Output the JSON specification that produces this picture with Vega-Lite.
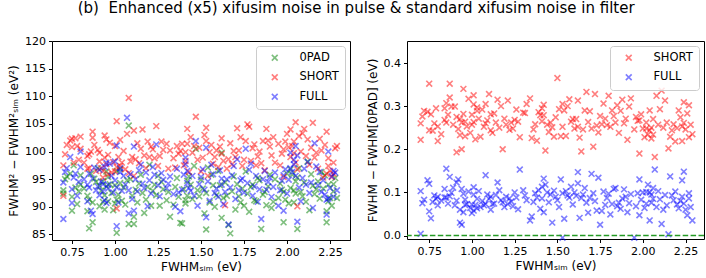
{
  "$schema": "https://vega.github.io/schema/vega-lite/v6.json",
  "padding": {"left": 7, "top": 0, "right": 3, "bottom": 2},
  "title": {"text": "(b)\u00a0\u00a0Enhanced (x5) xifusim noise in pulse & standard xifusim noise in filter", "font": "DejaVu Sans", "fontSize": 15, "fontWeight": "normal", "color": "black", "anchor": "middle", "offset": 19},
  "bounds": "flush",
  "spacing": 57,
  "datasets": {
    "left": [
      {"x":0.70,"0PAD":92.4,"SHORT":92.0,"FULL":87.8},
      {"x":0.70,"0PAD":93.0,"SHORT":97.5,"FULL":94.4},
      {"x":0.72,"0PAD":95.5,"SHORT":101.2,"FULL":97.0},
      {"x":0.74,"0PAD":96.0,"SHORT":102.0,"FULL":99.0},
      {"x":0.75,"0PAD":89.3,"SHORT":100.8,"FULL":90.7},
      {"x":0.75,"0PAD":91.8,"SHORT":102.3,"FULL":93.2},
      {"x":0.76,"0PAD":97.5,"SHORT":98.0,"FULL":95.3},
      {"x":0.77,"0PAD":93.5,"SHORT":102.4,"FULL":96.0},
      {"x":0.79,"0PAD":92.8,"SHORT":98.5,"FULL":94.5},
      {"x":0.80,"0PAD":95.7,"SHORT":100.5,"FULL":97.2},
      {"x":0.80,"0PAD":94.0,"SHORT":102.7,"FULL":100.0},
      {"x":0.84,"0PAD":89.2,"SHORT":99.2,"FULL":91.0},
      {"x":0.84,"0PAD":92.0,"SHORT":96.9,"FULL":94.0},
      {"x":0.85,"0PAD":86.1,"SHORT":97.0,"FULL":93.5},
      {"x":0.85,"0PAD":91.3,"SHORT":99.5,"FULL":96.0},
      {"x":0.86,"0PAD":96.0,"SHORT":100.0,"FULL":89.3},
      {"x":0.87,"0PAD":87.2,"SHORT":103.6,"FULL":88.7},
      {"x":0.87,"0PAD":90.8,"SHORT":102.5,"FULL":95.1},
      {"x":0.89,"0PAD":94.5,"SHORT":96.5,"FULL":93.0},
      {"x":0.90,"0PAD":97.0,"SHORT":100.3,"FULL":93.7},
      {"x":0.91,"0PAD":90.1,"SHORT":98.2,"FULL":92.1},
      {"x":0.92,"0PAD":92.9,"SHORT":97.0,"FULL":94.6},
      {"x":0.93,"0PAD":90.9,"SHORT":95.3,"FULL":94.1},
      {"x":0.93,"0PAD":94.6,"SHORT":96.5,"FULL":92.8},
      {"x":0.94,"0PAD":89.5,"SHORT":102.9,"FULL":91.2},
      {"x":0.95,"0PAD":93.7,"SHORT":97.7,"FULL":98.0},
      {"x":0.95,"0PAD":96.4,"SHORT":102.2,"FULL":90.7},
      {"x":0.96,"0PAD":91.0,"SHORT":95.9,"FULL":93.3},
      {"x":0.97,"0PAD":94.1,"SHORT":101.6,"FULL":97.8},
      {"x":0.98,"0PAD":92.5,"SHORT":96.2,"FULL":95.6},
      {"x":0.99,"0PAD":89.4,"SHORT":98.1,"FULL":92.6},
      {"x":1.00,"0PAD":93.9,"SHORT":101.0,"FULL":94.8},
      {"x":1.01,"0PAD":85.3,"SHORT":105.5,"FULL":86.5},
      {"x":1.01,"0PAD":91.3,"SHORT":89.7,"FULL":101.1},
      {"x":1.01,"0PAD":96.5,"SHORT":97.2,"FULL":93.5},
      {"x":1.02,"0PAD":92.2,"SHORT":99.0,"FULL":90.8},
      {"x":1.03,"0PAD":94.3,"SHORT":97.4,"FULL":96.3},
      {"x":1.04,"0PAD":91.1,"SHORT":98.0,"FULL":92.9},
      {"x":1.05,"0PAD":93.5,"SHORT":100.1,"FULL":95.6},
      {"x":1.06,"0PAD":90.4,"SHORT":96.8,"FULL":94.0},
      {"x":1.07,"0PAD":94.8,"SHORT":103.2,"FULL":106.1},
      {"x":1.08,"0PAD":104.7,"SHORT":109.7,"FULL":88.8},
      {"x":1.08,"0PAD":86.9,"SHORT":96.1,"FULL":93.0},
      {"x":1.10,"0PAD":92.0,"SHORT":99.0,"FULL":91.4},
      {"x":1.11,"0PAD":86.9,"SHORT":103.8,"FULL":100.9},
      {"x":1.11,"0PAD":88.2,"SHORT":95.6,"FULL":89.3},
      {"x":1.12,"0PAD":93.1,"SHORT":98.6,"FULL":95.0},
      {"x":1.15,"0PAD":95.8,"SHORT":100.5,"FULL":97.6},
      {"x":1.16,"0PAD":92.5,"SHORT":104.0,"FULL":94.2},
      {"x":1.17,"0PAD":88.9,"SHORT":99.3,"FULL":93.4},
      {"x":1.18,"0PAD":91.3,"SHORT":97.0,"FULL":96.2},
      {"x":1.19,"0PAD":93.6,"SHORT":101.8,"FULL":90.1},
      {"x":1.20,"0PAD":97.6,"SHORT":99.0,"FULL":94.8},
      {"x":1.21,"0PAD":90.2,"SHORT":100.9,"FULL":92.4},
      {"x":1.23,"0PAD":94.0,"SHORT":98.8,"FULL":95.8},
      {"x":1.24,"0PAD":92.1,"SHORT":104.6,"FULL":101.3},
      {"x":1.25,"0PAD":95.6,"SHORT":97.4,"FULL":93.9},
      {"x":1.26,"0PAD":90.2,"SHORT":99.2,"FULL":91.9},
      {"x":1.28,"0PAD":93.2,"SHORT":100.3,"FULL":94.9},
      {"x":1.30,"0PAD":91.2,"SHORT":101.4,"FULL":93.4},
      {"x":1.32,"0PAD":88.2,"SHORT":100.2,"FULL":95.5},
      {"x":1.34,"0PAD":90.4,"SHORT":98.8,"FULL":92.3},
      {"x":1.35,"0PAD":93.6,"SHORT":97.1,"FULL":90.0},
      {"x":1.37,"0PAD":91.8,"SHORT":99.6,"FULL":92.6},
      {"x":1.38,"0PAD":87.1,"SHORT":100.1,"FULL":89.2},
      {"x":1.39,"0PAD":87.0,"SHORT":101.4,"FULL":93.1},
      {"x":1.40,"0PAD":93.2,"SHORT":97.5,"FULL":95.8},
      {"x":1.41,"0PAD":90.6,"SHORT":98.3,"FULL":97.7},
      {"x":1.42,"0PAD":94.7,"SHORT":104.1,"FULL":96.5},
      {"x":1.42,"0PAD":92.0,"SHORT":101.4,"FULL":94.3},
      {"x":1.43,"0PAD":95.5,"SHORT":96.3,"FULL":93.4},
      {"x":1.45,"0PAD":91.4,"SHORT":99.8,"FULL":95.6},
      {"x":1.46,"0PAD":97.4,"SHORT":101.0,"FULL":92.0},
      {"x":1.47,"0PAD":100.5,"SHORT":106.3,"FULL":101.9},
      {"x":1.48,"0PAD":93.0,"SHORT":98.5,"FULL":90.2},
      {"x":1.50,"0PAD":94.9,"SHORT":96.4,"FULL":95.4},
      {"x":1.52,"0PAD":88.8,"SHORT":103.0,"FULL":93.1},
      {"x":1.53,"0PAD":85.9,"SHORT":104.3,"FULL":88.1},
      {"x":1.53,"0PAD":92.5,"SHORT":101.9,"FULL":100.7},
      {"x":1.54,"0PAD":97.1,"SHORT":95.6,"FULL":94.6},
      {"x":1.55,"0PAD":90.8,"SHORT":99.9,"FULL":91.1},
      {"x":1.57,"0PAD":93.9,"SHORT":97.8,"FULL":95.9},
      {"x":1.59,"0PAD":92.1,"SHORT":100.2,"FULL":93.3},
      {"x":1.60,"0PAD":96.5,"SHORT":97.2,"FULL":91.8},
      {"x":1.62,"0PAD":88.0,"SHORT":102.4,"FULL":95.1},
      {"x":1.62,"0PAD":99.8,"SHORT":99.6,"FULL":94.0},
      {"x":1.63,"0PAD":91.6,"SHORT":98.3,"FULL":90.5},
      {"x":1.64,"0PAD":94.4,"SHORT":90.3,"FULL":92.7},
      {"x":1.66,"0PAD":86.7,"SHORT":98.6,"FULL":86.8},
      {"x":1.67,"0PAD":85.2,"SHORT":101.5,"FULL":93.5},
      {"x":1.68,"0PAD":92.8,"SHORT":97.7,"FULL":95.7},
      {"x":1.70,"0PAD":89.5,"SHORT":99.0,"FULL":91.4},
      {"x":1.71,"0PAD":94.1,"SHORT":104.2,"FULL":98.6},
      {"x":1.72,"0PAD":91.9,"SHORT":100.2,"FULL":93.0},
      {"x":1.74,"0PAD":93.3,"SHORT":97.4,"FULL":95.1},
      {"x":1.75,"0PAD":90.2,"SHORT":98.5,"FULL":92.6},
      {"x":1.76,"0PAD":96.4,"SHORT":101.9,"FULL":100.5},
      {"x":1.77,"0PAD":92.4,"SHORT":104.9,"FULL":94.3},
      {"x":1.78,"0PAD":89.1,"SHORT":104.5,"FULL":96.7},
      {"x":1.80,"0PAD":94.0,"SHORT":100.6,"FULL":92.0},
      {"x":1.81,"0PAD":91.2,"SHORT":101.3,"FULL":93.7},
      {"x":1.83,"0PAD":95.2,"SHORT":99.1,"FULL":90.9},
      {"x":1.85,"0PAD":86.0,"SHORT":97.9,"FULL":87.8},
      {"x":1.86,"0PAD":92.2,"SHORT":101.9,"FULL":95.0},
      {"x":1.88,"0PAD":90.3,"SHORT":104.1,"FULL":93.1},
      {"x":1.89,"0PAD":93.7,"SHORT":102.0,"FULL":94.5},
      {"x":1.91,"0PAD":89.8,"SHORT":99.3,"FULL":91.8},
      {"x":1.93,"0PAD":95.0,"SHORT":98.0,"FULL":96.2},
      {"x":1.95,"0PAD":91.6,"SHORT":101.4,"FULL":90.2},
      {"x":1.96,"0PAD":94.2,"SHORT":97.5,"FULL":93.0},
      {"x":1.98,"0PAD":87.2,"SHORT":100.4,"FULL":89.3},
      {"x":1.98,"0PAD":92.7,"SHORT":95.4,"FULL":95.7},
      {"x":2.00,"0PAD":96.0,"SHORT":103.2,"FULL":92.4},
      {"x":2.01,"0PAD":90.6,"SHORT":100.8,"FULL":94.9},
      {"x":2.02,"0PAD":93.4,"SHORT":104.0,"FULL":97.0},
      {"x":2.03,"0PAD":95.8,"SHORT":101.0,"FULL":96.3},
      {"x":2.04,"0PAD":90.8,"SHORT":99.7,"FULL":98.5},
      {"x":2.05,"0PAD":94.6,"SHORT":105.3,"FULL":101.0},
      {"x":2.05,"0PAD":92.4,"SHORT":98.0,"FULL":95.6},
      {"x":2.06,"0PAD":86.0,"SHORT":90.1,"FULL":87.3},
      {"x":2.07,"0PAD":97.0,"SHORT":102.8,"FULL":93.5},
      {"x":2.08,"0PAD":92.7,"SHORT":100.0,"FULL":91.0},
      {"x":2.10,"0PAD":94.4,"SHORT":104.1,"FULL":96.9},
      {"x":2.11,"0PAD":90.9,"SHORT":99.2,"FULL":94.0},
      {"x":2.12,"0PAD":98.2,"SHORT":102.2,"FULL":98.1},
      {"x":2.13,"0PAD":89.4,"SHORT":97.6,"FULL":92.5},
      {"x":2.15,"0PAD":93.8,"SHORT":105.2,"FULL":89.8},
      {"x":2.16,"0PAD":92.3,"SHORT":98.9,"FULL":101.5},
      {"x":2.18,"0PAD":94.6,"SHORT":96.9,"FULL":93.9},
      {"x":2.19,"0PAD":91.5,"SHORT":102.3,"FULL":96.3},
      {"x":2.20,"0PAD":96.3,"SHORT":100.2,"FULL":92.7},
      {"x":2.21,"0PAD":93.3,"SHORT":95.3,"FULL":94.8},
      {"x":2.23,"0PAD":87.2,"SHORT":103.6,"FULL":88.6},
      {"x":2.23,"0PAD":89.2,"SHORT":96.0,"FULL":91.3},
      {"x":2.24,"0PAD":94.0,"SHORT":97.4,"FULL":100.0},
      {"x":2.25,"0PAD":91.6,"SHORT":96.5,"FULL":93.4},
      {"x":2.26,"0PAD":90.2,"SHORT":95.4,"FULL":95.5},
      {"x":2.27,"0PAD":92.8,"SHORT":98.0,"FULL":91.8},
      {"x":2.28,"0PAD":95.2,"SHORT":100.6,"FULL":96.2},
      {"x":2.29,"0PAD":91.6,"SHORT":101.0,"FULL":93.0},
      {"x":0.71,"0PAD":95.0,"SHORT":99.5,"FULL":96.3},
      {"x":0.78,"0PAD":90.5,"SHORT":101.0,"FULL":92.0},
      {"x":0.82,"0PAD":93.3,"SHORT":98.0,"FULL":95.0},
      {"x":0.88,"0PAD":95.1,"SHORT":101.2,"FULL":97.1},
      {"x":0.91,"0PAD":93.8,"SHORT":99.8,"FULL":96.7},
      {"x":0.94,"0PAD":92.1,"SHORT":98.9,"FULL":97.2},
      {"x":0.96,"0PAD":95.4,"SHORT":99.4,"FULL":94.0},
      {"x":1.00,"0PAD":90.6,"SHORT":96.4,"FULL":98.2},
      {"x":1.03,"0PAD":96.8,"SHORT":102.1,"FULL":97.0},
      {"x":1.09,"0PAD":95.0,"SHORT":98.2,"FULL":95.9},
      {"x":1.13,"0PAD":90.8,"SHORT":101.5,"FULL":92.8},
      {"x":1.14,"0PAD":94.2,"SHORT":97.9,"FULL":96.6},
      {"x":1.22,"0PAD":92.9,"SHORT":100.4,"FULL":97.2},
      {"x":1.27,"0PAD":94.5,"SHORT":101.8,"FULL":96.1},
      {"x":1.31,"0PAD":92.7,"SHORT":96.9,"FULL":94.2},
      {"x":1.36,"0PAD":95.2,"SHORT":101.0,"FULL":96.9},
      {"x":1.41,"0PAD":91.2,"SHORT":99.9,"FULL":98.9},
      {"x":1.44,"0PAD":94.0,"SHORT":102.6,"FULL":92.9},
      {"x":1.49,"0PAD":91.9,"SHORT":100.7,"FULL":94.1},
      {"x":1.51,"0PAD":93.3,"SHORT":98.9,"FULL":96.8},
      {"x":1.56,"0PAD":95.8,"SHORT":101.2,"FULL":97.6},
      {"x":1.58,"0PAD":90.0,"SHORT":99.0,"FULL":92.5},
      {"x":1.61,"0PAD":93.9,"SHORT":100.9,"FULL":96.6},
      {"x":1.65,"0PAD":92.0,"SHORT":96.9,"FULL":95.0},
      {"x":1.69,"0PAD":95.5,"SHORT":100.1,"FULL":97.4},
      {"x":1.73,"0PAD":90.8,"SHORT":102.6,"FULL":94.8},
      {"x":1.79,"0PAD":93.6,"SHORT":98.3,"FULL":97.8},
      {"x":1.82,"0PAD":91.0,"SHORT":97.5,"FULL":95.6},
      {"x":1.84,"0PAD":94.8,"SHORT":100.0,"FULL":93.2},
      {"x":1.87,"0PAD":92.7,"SHORT":96.6,"FULL":96.5},
      {"x":1.90,"0PAD":95.8,"SHORT":100.9,"FULL":95.3},
      {"x":1.92,"0PAD":90.9,"SHORT":102.6,"FULL":93.6},
      {"x":1.97,"0PAD":93.1,"SHORT":99.6,"FULL":94.7},
      {"x":1.99,"0PAD":91.3,"SHORT":101.8,"FULL":96.8},
      {"x":2.02,"0PAD":96.8,"SHORT":99.0,"FULL":99.8},
      {"x":2.04,"0PAD":93.0,"SHORT":101.8,"FULL":97.7},
      {"x":2.06,"0PAD":95.3,"SHORT":96.8,"FULL":99.3},
      {"x":2.09,"0PAD":91.9,"SHORT":103.3,"FULL":95.2},
      {"x":2.14,"0PAD":95.9,"SHORT":100.7,"FULL":94.4},
      {"x":2.17,"0PAD":93.2,"SHORT":99.8,"FULL":97.3},
      {"x":2.22,"0PAD":95.7,"SHORT":101.2,"FULL":92.2},
      {"x":2.24,"0PAD":91.0,"SHORT":98.8,"FULL":91.5},
      {"x":2.27,"0PAD":94.1,"SHORT":96.0,"FULL":96.5}
    ],
    "right": [
      {"x":0.70,"SHORT":0.222,"FULL":0.103},
      {"x":0.70,"SHORT":0.260,"FULL":0.004},
      {"x":0.72,"SHORT":0.289,"FULL":0.083},
      {"x":0.74,"SHORT":0.287,"FULL":0.128},
      {"x":0.75,"SHORT":0.244,"FULL":0.120},
      {"x":0.75,"SHORT":0.352,"FULL":0.056},
      {"x":0.76,"SHORT":0.281,"FULL":0.040},
      {"x":0.77,"SHORT":0.243,"FULL":0.078},
      {"x":0.79,"SHORT":0.295,"FULL":0.085},
      {"x":0.80,"SHORT":0.219,"FULL":0.090},
      {"x":0.80,"SHORT":0.253,"FULL":0.070},
      {"x":0.84,"SHORT":0.268,"FULL":0.108},
      {"x":0.84,"SHORT":0.295,"FULL":0.088},
      {"x":0.85,"SHORT":0.262,"FULL":0.155},
      {"x":0.85,"SHORT":0.307,"FULL":0.088},
      {"x":0.86,"SHORT":0.280,"FULL":0.074},
      {"x":0.87,"SHORT":0.352,"FULL":0.136},
      {"x":0.87,"SHORT":0.320,"FULL":0.091},
      {"x":0.89,"SHORT":0.257,"FULL":0.111},
      {"x":0.90,"SHORT":0.299,"FULL":0.070},
      {"x":0.91,"SHORT":0.193,"FULL":0.081},
      {"x":0.92,"SHORT":0.247,"FULL":0.130},
      {"x":0.93,"SHORT":0.233,"FULL":0.030},
      {"x":0.93,"SHORT":0.270,"FULL":0.060},
      {"x":0.94,"SHORT":0.200,"FULL":0.025},
      {"x":0.95,"SHORT":0.282,"FULL":0.054},
      {"x":0.95,"SHORT":0.340,"FULL":0.097},
      {"x":0.96,"SHORT":0.264,"FULL":0.083},
      {"x":0.97,"SHORT":0.253,"FULL":0.073},
      {"x":0.98,"SHORT":0.317,"FULL":0.102},
      {"x":0.99,"SHORT":0.238,"FULL":0.064},
      {"x":1.00,"SHORT":0.280,"FULL":0.072},
      {"x":1.01,"SHORT":0.325,"FULL":0.112},
      {"x":1.01,"SHORT":0.304,"FULL":0.095},
      {"x":1.01,"SHORT":0.263,"FULL":0.058},
      {"x":1.02,"SHORT":0.223,"FULL":0.071},
      {"x":1.03,"SHORT":0.297,"FULL":0.085},
      {"x":1.04,"SHORT":0.271,"FULL":0.103},
      {"x":1.05,"SHORT":0.229,"FULL":0.066},
      {"x":1.06,"SHORT":0.292,"FULL":0.080},
      {"x":1.07,"SHORT":0.252,"FULL":0.070},
      {"x":1.08,"SHORT":0.260,"FULL":0.140},
      {"x":1.08,"SHORT":0.305,"FULL":0.073},
      {"x":1.10,"SHORT":0.328,"FULL":0.085},
      {"x":1.11,"SHORT":0.281,"FULL":0.090},
      {"x":1.11,"SHORT":0.244,"FULL":0.060},
      {"x":1.12,"SHORT":0.238,"FULL":0.073},
      {"x":1.15,"SHORT":0.315,"FULL":0.123},
      {"x":1.16,"SHORT":0.250,"FULL":0.105},
      {"x":1.17,"SHORT":0.300,"FULL":0.082},
      {"x":1.18,"SHORT":0.200,"FULL":0.077},
      {"x":1.19,"SHORT":0.271,"FULL":0.066},
      {"x":1.20,"SHORT":0.257,"FULL":0.090},
      {"x":1.21,"SHORT":0.313,"FULL":0.073},
      {"x":1.23,"SHORT":0.262,"FULL":0.079},
      {"x":1.24,"SHORT":0.248,"FULL":0.068},
      {"x":1.25,"SHORT":0.268,"FULL":0.100},
      {"x":1.26,"SHORT":0.292,"FULL":0.088},
      {"x":1.28,"SHORT":0.228,"FULL":0.153},
      {"x":1.30,"SHORT":0.285,"FULL":0.105},
      {"x":1.32,"SHORT":0.305,"FULL":0.082},
      {"x":1.34,"SHORT":0.318,"FULL":0.035},
      {"x":1.35,"SHORT":0.226,"FULL":0.044},
      {"x":1.37,"SHORT":0.258,"FULL":0.098},
      {"x":1.38,"SHORT":0.220,"FULL":0.088},
      {"x":1.39,"SHORT":0.286,"FULL":0.105},
      {"x":1.40,"SHORT":0.279,"FULL":0.062},
      {"x":1.41,"SHORT":0.265,"FULL":0.113},
      {"x":1.42,"SHORT":0.279,"FULL":0.132},
      {"x":1.42,"SHORT":0.303,"FULL":0.054},
      {"x":1.43,"SHORT":0.197,"FULL":0.118},
      {"x":1.45,"SHORT":0.240,"FULL":0.077},
      {"x":1.46,"SHORT":0.262,"FULL":0.095},
      {"x":1.47,"SHORT":0.251,"FULL":0.030},
      {"x":1.48,"SHORT":0.229,"FULL":0.104},
      {"x":1.50,"SHORT":0.365,"FULL":0.082},
      {"x":1.52,"SHORT":0.230,"FULL":0.130},
      {"x":1.53,"SHORT":0.305,"FULL":-0.005},
      {"x":1.53,"SHORT":0.252,"FULL":0.098},
      {"x":1.54,"SHORT":0.290,"FULL":0.039},
      {"x":1.55,"SHORT":0.231,"FULL":0.103},
      {"x":1.57,"SHORT":0.316,"FULL":0.088},
      {"x":1.59,"SHORT":0.270,"FULL":0.072},
      {"x":1.60,"SHORT":0.248,"FULL":0.100},
      {"x":1.62,"SHORT":0.252,"FULL":0.147},
      {"x":1.62,"SHORT":0.313,"FULL":0.121},
      {"x":1.63,"SHORT":0.227,"FULL":0.041},
      {"x":1.64,"SHORT":0.195,"FULL":0.087},
      {"x":1.66,"SHORT":0.290,"FULL":0.110},
      {"x":1.67,"SHORT":0.333,"FULL":0.076},
      {"x":1.68,"SHORT":0.263,"FULL":0.053},
      {"x":1.70,"SHORT":0.248,"FULL":0.143},
      {"x":1.71,"SHORT":0.206,"FULL":0.098},
      {"x":1.72,"SHORT":0.328,"FULL":0.080},
      {"x":1.74,"SHORT":0.239,"FULL":0.134},
      {"x":1.75,"SHORT":0.277,"FULL":0.025},
      {"x":1.76,"SHORT":0.258,"FULL":0.057},
      {"x":1.77,"SHORT":0.306,"FULL":0.102},
      {"x":1.78,"SHORT":0.271,"FULL":0.071},
      {"x":1.80,"SHORT":0.324,"FULL":0.097},
      {"x":1.81,"SHORT":0.252,"FULL":0.049},
      {"x":1.83,"SHORT":0.277,"FULL":0.108},
      {"x":1.85,"SHORT":0.302,"FULL":0.068},
      {"x":1.86,"SHORT":0.238,"FULL":0.076},
      {"x":1.88,"SHORT":0.315,"FULL":0.086},
      {"x":1.89,"SHORT":0.260,"FULL":0.107},
      {"x":1.91,"SHORT":0.222,"FULL":0.054},
      {"x":1.93,"SHORT":0.318,"FULL":0.096},
      {"x":1.95,"SHORT":0.246,"FULL":-0.005},
      {"x":1.96,"SHORT":0.275,"FULL":0.068},
      {"x":1.98,"SHORT":0.190,"FULL":0.130},
      {"x":1.98,"SHORT":0.267,"FULL":0.047},
      {"x":2.00,"SHORT":0.248,"FULL":0.100},
      {"x":2.01,"SHORT":0.228,"FULL":0.064},
      {"x":2.02,"SHORT":0.262,"FULL":0.101},
      {"x":2.03,"SHORT":0.234,"FULL":0.118},
      {"x":2.04,"SHORT":0.290,"FULL":0.035},
      {"x":2.05,"SHORT":0.225,"FULL":0.076},
      {"x":2.05,"SHORT":0.250,"FULL":0.095},
      {"x":2.06,"SHORT":0.270,"FULL":0.110},
      {"x":2.07,"SHORT":0.182,"FULL":0.153},
      {"x":2.08,"SHORT":0.324,"FULL":0.066},
      {"x":2.10,"SHORT":0.293,"FULL":0.084},
      {"x":2.11,"SHORT":0.336,"FULL":0.027},
      {"x":2.12,"SHORT":0.250,"FULL":0.060},
      {"x":2.13,"SHORT":0.313,"FULL":0.094},
      {"x":2.15,"SHORT":0.202,"FULL":0.003},
      {"x":2.16,"SHORT":0.229,"FULL":0.137},
      {"x":2.18,"SHORT":0.258,"FULL":0.082},
      {"x":2.19,"SHORT":0.218,"FULL":0.102},
      {"x":2.20,"SHORT":0.249,"FULL":0.072},
      {"x":2.21,"SHORT":0.290,"FULL":0.063},
      {"x":2.23,"SHORT":0.219,"FULL":0.128},
      {"x":2.23,"SHORT":0.253,"FULL":0.090},
      {"x":2.24,"SHORT":0.309,"FULL":0.148},
      {"x":2.25,"SHORT":0.246,"FULL":0.060},
      {"x":2.26,"SHORT":0.283,"FULL":0.047},
      {"x":2.27,"SHORT":0.228,"FULL":0.098},
      {"x":2.28,"SHORT":0.257,"FULL":0.066},
      {"x":2.29,"SHORT":0.235,"FULL":0.035},
      {"x":0.71,"SHORT":0.276,"FULL":0.075},
      {"x":0.78,"SHORT":0.260,"FULL":0.093},
      {"x":0.82,"SHORT":0.235,"FULL":0.081},
      {"x":0.88,"SHORT":0.299,"FULL":0.099},
      {"x":0.91,"SHORT":0.275,"FULL":0.123},
      {"x":0.94,"SHORT":0.262,"FULL":0.108},
      {"x":0.96,"SHORT":0.230,"FULL":0.071},
      {"x":1.00,"SHORT":0.257,"FULL":0.052},
      {"x":1.03,"SHORT":0.289,"FULL":0.063},
      {"x":1.09,"SHORT":0.267,"FULL":0.095},
      {"x":1.13,"SHORT":0.283,"FULL":0.074},
      {"x":1.14,"SHORT":0.262,"FULL":0.094},
      {"x":1.22,"SHORT":0.245,"FULL":0.086},
      {"x":1.27,"SHORT":0.264,"FULL":0.061},
      {"x":1.31,"SHORT":0.284,"FULL":0.093},
      {"x":1.36,"SHORT":0.246,"FULL":0.078},
      {"x":1.41,"SHORT":0.295,"FULL":0.086},
      {"x":1.44,"SHORT":0.257,"FULL":0.100},
      {"x":1.49,"SHORT":0.274,"FULL":0.090},
      {"x":1.51,"SHORT":0.293,"FULL":0.066},
      {"x":1.56,"SHORT":0.300,"FULL":0.093},
      {"x":1.58,"SHORT":0.264,"FULL":0.113},
      {"x":1.61,"SHORT":0.270,"FULL":0.092},
      {"x":1.65,"SHORT":0.246,"FULL":0.095},
      {"x":1.69,"SHORT":0.288,"FULL":0.087},
      {"x":1.73,"SHORT":0.255,"FULL":0.058},
      {"x":1.79,"SHORT":0.256,"FULL":0.087},
      {"x":1.82,"SHORT":0.290,"FULL":0.073},
      {"x":1.84,"SHORT":0.262,"FULL":0.110},
      {"x":1.87,"SHORT":0.289,"FULL":0.062},
      {"x":1.90,"SHORT":0.271,"FULL":0.090},
      {"x":1.92,"SHORT":0.299,"FULL":0.075},
      {"x":1.97,"SHORT":0.266,"FULL":0.098},
      {"x":1.99,"SHORT":0.281,"FULL":0.083},
      {"x":2.02,"SHORT":0.248,"FULL":0.074},
      {"x":2.04,"SHORT":0.244,"FULL":0.100},
      {"x":2.06,"SHORT":0.234,"FULL":0.085},
      {"x":2.09,"SHORT":0.257,"FULL":0.103},
      {"x":2.14,"SHORT":0.262,"FULL":0.070},
      {"x":2.17,"SHORT":0.244,"FULL":0.093},
      {"x":2.22,"SHORT":0.274,"FULL":0.080},
      {"x":2.24,"SHORT":0.261,"FULL":0.074},
      {"x":2.27,"SHORT":0.302,"FULL":0.086}
    ]
  },
  "hconcat": [
    {
      "width": 298,
      "height": 199,
      "encoding": {
        "x": {"field": "x", "type": "quantitative", "scale": {"domain": [0.634, 2.366], "nice": false, "zero": false}, "axis": {"values": [0.75, 1.0, 1.25, 1.5, 1.75, 2.0, 2.25], "format": ".2f", "title": "FWHMₛᵢₘ (eV)"}},
        "y": {"field": "value", "type": "quantitative", "scale": {"domain": [84, 120], "nice": false, "zero": false}, "axis": {"values": [85, 90, 95, 100, 105, 110, 115, 120], "title": "FWHM² − FWHM²ₛᵢₘ (eV²)"}},
        "color": {"field": "key", "type": "nominal", "scale": {"domain": ["0PAD", "SHORT", "FULL"], "range": ["#008000", "#ff0000", "#0000ff"]},
          "legend": {"title": null, "orient": "top-right", "offset": 5, "padding": 6, "rowPadding": 6.5, "labelOffset": 19, "symbolOffset": 7, "strokeColor": "#cccccc", "cornerRadius": 3, "fillColor": "rgba(255,255,255,0.8)", "labelFontSize": 11.5, "labelFont": "DejaVu Sans", "labelColor": "black", "symbolType": "M-1,-1L1,1M1,-1L-1,1", "symbolSize": 34, "symbolStrokeWidth": 1.6, "symbolOpacity": 0.5, "symbolFillColor": "transparent"}}
      },
      "layer": [
        {"data": {"name": "left"}, "transform": [{"fold": ["0PAD"]}], "mark": {"type": "point", "shape": "M-1,-1L1,1M1,-1L-1,1", "filled": false, "size": 34, "strokeWidth": 1.6, "opacity": 0.5}},
        {"data": {"name": "left"}, "transform": [{"fold": ["SHORT"]}], "mark": {"type": "point", "shape": "M-1,-1L1,1M1,-1L-1,1", "filled": false, "size": 34, "strokeWidth": 1.6, "opacity": 0.5}},
        {"data": {"name": "left"}, "transform": [{"fold": ["FULL"]}], "mark": {"type": "point", "shape": "M-1,-1L1,1M1,-1L-1,1", "filled": false, "size": 34, "strokeWidth": 1.6, "opacity": 0.5}}
      ]
    },
    {
      "width": 297,
      "height": 198,
      "layer": [
        {"data": {"name": "right"}, "transform": [{"fold": ["SHORT"]}], "mark": {"type": "point", "shape": "M-1,-1L1,1M1,-1L-1,1", "filled": false, "size": 34, "strokeWidth": 1.6, "opacity": 0.5},
          "encoding": {
            "x": {"field": "x", "type": "quantitative", "scale": {"domain": [0.62, 2.358], "nice": false, "zero": false}, "axis": {"values": [0.75, 1.0, 1.25, 1.5, 1.75, 2.0, 2.25], "format": ".2f", "title": "FWHMₛᵢₘ (eV)"}},
            "y": {"field": "value", "type": "quantitative", "scale": {"domain": [-0.008, 0.451], "nice": false, "zero": false}, "axis": {"values": [0, 0.1, 0.2, 0.3, 0.4], "format": ".1f", "title": "FWHM − FWHM[0PAD] (eV)"}},
            "color": {"field": "key", "type": "nominal", "scale": {"domain": ["SHORT", "FULL"], "range": ["#ff0000", "#0000ff"]},
              "legend": {"title": null, "orient": "top-right", "offset": 5, "padding": 6, "rowPadding": 6.5, "labelOffset": 19, "symbolOffset": 7, "strokeColor": "#cccccc", "cornerRadius": 3, "fillColor": "rgba(255,255,255,0.8)", "labelFontSize": 11.5, "labelFont": "DejaVu Sans", "labelColor": "black", "symbolType": "M-1,-1L1,1M1,-1L-1,1", "symbolSize": 34, "symbolStrokeWidth": 1.6, "symbolOpacity": 0.5, "symbolFillColor": "transparent"}}}},
        {"data": {"name": "right"}, "transform": [{"fold": ["FULL"]}], "mark": {"type": "point", "shape": "M-1,-1L1,1M1,-1L-1,1", "filled": false, "size": 34, "strokeWidth": 1.6, "opacity": 0.5},
          "encoding": {"x": {"field": "x", "type": "quantitative"}, "y": {"field": "value", "type": "quantitative"}, "color": {"field": "key", "type": "nominal"}}},
        {"data": {"values": [{"y0": 0}]}, "mark": {"type": "rule", "color": "#259a25", "strokeWidth": 1.6, "strokeDash": [5.5, 2.4]}, "encoding": {"y": {"field": "y0", "type": "quantitative"}}}
      ]
    }
  ],
  "resolve": {"scale": {"color": "independent"}},
  "config": {
    "font": "DejaVu Sans",
    "view": {"stroke": "black", "strokeWidth": 1},
    "axis": {"grid": false, "domain": false, "tickColor": "black", "tickSize": 3.5, "tickWidth": 1, "labelFont": "DejaVu Sans", "labelFontSize": 11, "labelColor": "black", "labelPadding": 3, "titleFont": "DejaVu Sans", "titleFontSize": 12, "titleFontWeight": "normal", "titleColor": "black", "titlePadding": 4}
  }
}
